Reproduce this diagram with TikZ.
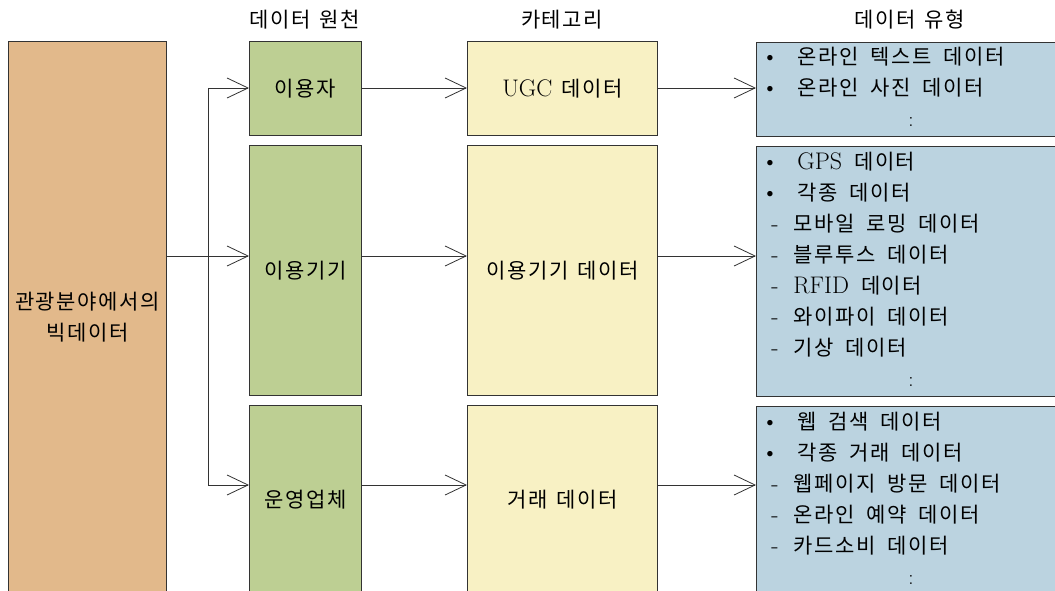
\documentclass[tikz,border=0pt]{standalone}
\usepackage{fontspec}
\newfontfamily\kr[LetterSpace=7.5]{Noto Sans CJK KR}
\usetikzlibrary{arrows.meta}
\definecolor{boxtan}{RGB}{226,185,139}
\definecolor{boxgreen}{RGB}{189,207,147}
\definecolor{boxyellow}{RGB}{248,241,196}
\definecolor{boxblue}{RGB}{187,211,224}
\newcommand{\krfont}{\kr\fontsize{21}{31}\selectfont\spaceskip=9pt\relax}
\newcommand{\lat}[1]{{\rmfamily\fontsize{24}{31}\selectfont #1}}
\newcommand{\bul}{\makebox[36pt][l]{\lat{\textbullet}}}
\newcommand{\dsh}{\hspace*{10pt}\makebox[22pt][l]{\lat{-}}}
\newcommand{\cln}{\hspace*{147pt}{\rmfamily :}}
\newcommand{\ws}{\hspace{12pt}}
\begin{document}
\begin{tikzpicture}[x=1pt,y=-1pt,
  box/.style={draw=black!80, line width=0.8pt, inner sep=0pt, anchor=north west,
    font=\krfont},
  listbox/.style={box, fill=boxblue, minimum width=310pt, inner xsep=5pt,
    text width=300pt, align=left},
  hdr/.style={font=\krfont, inner sep=0pt},
  line/.style={draw=black!80, line width=0.8pt},
  conn/.style={line, -{Straight Barb[length=21pt,width=20pt]}},
]
\useasboundingbox (0,0) rectangle (1055,591);

% headers
\node[hdr] (h1) at (305,20) {데이터 원천};
\node[hdr] (h2) at (562,20) {카테고리};
\node[hdr] (h3) at (910,20) {데이터 유형};

% left box
\node[box, fill=boxtan, minimum width=158pt, minimum height=552pt, align=center] (src) at (8,41)
  {관광분야에서의\\빅데이터};

% green boxes
\node[box, fill=boxgreen, minimum width=112pt, minimum height=94pt] (g1) at (249,41) {이용자};
\node[box, fill=boxgreen, minimum width=112pt, minimum height=250pt] (g2) at (249,145) {이용기기};
\node[box, fill=boxgreen, minimum width=112pt, minimum height=188pt] (g3) at (249,405) {운영업체};

% yellow boxes
\node[box, fill=boxyellow, minimum width=190pt, minimum height=94pt] (y1) at (467,41) {\lat{UGC} 데이터};
\node[box, fill=boxyellow, minimum width=190pt, minimum height=250pt] (y2) at (467,145) {이용기기 데이터};
\node[box, fill=boxyellow, minimum width=190pt, minimum height=188pt] (y3) at (467,405) {거래 데이터};

% blue boxes
\node[listbox, minimum height=94pt] (b1) at (756,42)
  {\begin{tabular}{@{}l@{}}
   \bul 온라인\ws 텍스트\ws 데이터\\
   \bul 온라인\ws 사진\ws 데이터\\
   \cln
   \end{tabular}};
\node[listbox, minimum height=250pt] (b2) at (756,146)
  {\begin{tabular}{@{}l@{}}
   \bul \lat{GPS}\ws 데이터\\
   \bul 각종\ws 데이터\\
   \dsh 모바일\ws 로밍\ws 데이터\\
   \dsh 블루투스\ws 데이터\\
   \dsh \lat{RFID}\ws 데이터\\
   \dsh 와이파이\ws 데이터\\
   \dsh 기상\ws 데이터\\
   \cln
   \end{tabular}};
\node[listbox, minimum height=188pt] (b3) at (756,406)
  {\begin{tabular}{@{}l@{}}
   \bul 웹\ws 검색\ws 데이터\\
   \bul 각종\ws 거래\ws 데이터\\
   \dsh 웹페이지\ws 방문\ws 데이터\\
   \dsh 온라인\ws 예약\ws 데이터\\
   \dsh 카드소비\ws 데이터\\
   \cln
   \end{tabular}};

% connectors
\coordinate (j1) at (208,88);
\coordinate (j2) at (208,256);
\coordinate (j3) at (208,485);
\draw[line] (src.east |- j2) -- (j2);
\draw[line] (j1) -- (j3);
\draw[conn] (j1) -- (g1.west |- j1);
\draw[conn] (j2) -- (g2.west |- j2);
\draw[conn] (j3) -- (g3.west |- j3);
\draw[conn] (g1.east |- j1) -- (y1.west |- j1);
\draw[conn] (g2.east |- j2) -- (y2.west |- j2);
\draw[conn] (g3.east |- j3) -- (y3.west |- j3);
\draw[conn] (y1.east |- j1) -- (b1.west |- j1);
\draw[conn] (y2.east |- j2) -- (b2.west |- j2);
\draw[conn] (y3.east |- j3) -- (b3.west |- j3);
\end{tikzpicture}
\end{document}
